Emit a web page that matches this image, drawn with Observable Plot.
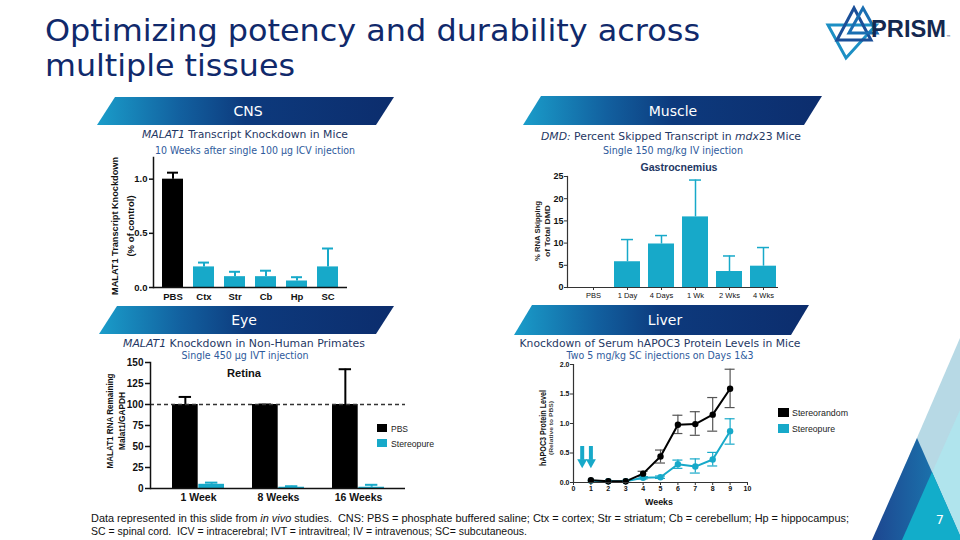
<!DOCTYPE html>
<html><head><meta charset="utf-8">
<script src="https://cdn.jsdelivr.net/npm/d3@7"></script>
<script src="https://cdn.jsdelivr.net/npm/@observablehq/plot@0.6"></script>
<style>
html,body{margin:0;padding:0;background:#fff;}
#stage{position:relative;width:960px;height:540px;overflow:hidden;background:#fff;}
.banner{position:absolute;background:linear-gradient(90deg,#1a9dca 0%,#12609f 28%,#0d3a7d 50%,#0c2d6d 100%);clip-path:polygon(18px 0,100% 0,calc(100% - 18px) 100%,0 100%);}
.chart{position:absolute;}
.chart svg{max-width:none;display:block;}
</style></head><body><div id="stage"></div>
<script>
// ---------------- DATA ----------------
const cnsCats = ["PBS", "Ctx", "Str", "Cb", "Hp", "SC"];
const cnsGroup = ["PBS", "Stereopure", "Stereopure", "Stereopure", "Stereopure", "Stereopure"];
const cnsValues = [1.0, 0.19, 0.10, 0.10, 0.06, 0.19];
const cnsUpper = [1.06, 0.23, 0.145, 0.155, 0.095, 0.36];
const cnsTicks = [0, 0.5, 1.0];

const muscleCats = ["PBS", "1 Day", "4 Days", "1 Wk", "2 Wks", "4 Wks"];
const muscleValues = [0, 5.8, 9.8, 15.9, 3.6, 4.8];
const muscleUpper = [null, 10.8, 11.7, 24.2, 7.1, 9.0];
const muscleTicks = [0, 5, 10, 15, 20, 25];

const eyeGroups = ["1 Week", "8 Weeks", "16 Weeks"];
const eyeSeries = ["PBS", "Stereopure"];
const eyePBS = [100, 100, 100];
const eyePBSUpper = [109, 100, 142];
const eyeStereo = [5, 1.5, 1.5];
const eyeStereoUpper = [7, 2.7, 4.4];
const eyeTicks = [0, 25, 50, 75, 100, 125, 150];
const eyeReference = [100];

const liverSeries = ["Stereorandom", "Stereopure"];
const liverWeeks = [1, 2, 3, 4, 5, 6, 7, 8, 9];
const liverRandom = [0.04, 0.02, 0.02, 0.15, 0.44, 0.98, 0.99, 1.15, 1.59];
const liverRandomLow = [0.04, 0.02, 0.02, 0.10, 0.33, 0.83, 0.80, 0.87, 1.27];
const liverRandomHigh = [0.04, 0.02, 0.02, 0.19, 0.55, 1.14, 1.20, 1.44, 1.92];
const liverPure = [0.03, 0.02, 0.02, 0.08, 0.09, 0.31, 0.27, 0.39, 0.87];
const liverPureLow = [0.03, 0.02, 0.02, 0.06, 0.07, 0.24, 0.16, 0.28, 0.65];
const liverPureHigh = [0.03, 0.02, 0.02, 0.10, 0.11, 0.38, 0.40, 0.51, 1.08];
const liverXTicks = [0, 1, 2, 3, 4, 5, 6, 7, 8, 9, 10];
const liverYTicks = [0, 0.5, 1.0, 1.5, 2.0];
const injectionWeeks = [0.5, 1];
const injectionArrowTop = 0.61;
const injectionArrowTip = 0.24;

// ---------------- STYLE ----------------
const TEAL = "#17a9c9";
const NAVY = "#1f3864";
const SUBBLUE = "#2e5a9c";
const SANS = '"DejaVu Sans", Verdana, sans-serif';
const ARIAL = '"Liberation Sans", Arial, Helvetica, sans-serif';
const stage = document.getElementById("stage");

// decorative shapes
const deco = document.createElement("div");
deco.style.cssText = "position:absolute;left:0;top:0;width:960px;height:540px;";
deco.innerHTML = `<svg width="960" height="540" xmlns="http://www.w3.org/2000/svg">
<defs><linearGradient id="dg" x1="0" x2="1" y1="0" y2="0"><stop offset="0" stop-color="#1d4690"/><stop offset="1" stop-color="#1a86b8"/></linearGradient></defs>
<polygon points="960,338 873,540 960,540" fill="#b7d9e5"/>
<polygon points="960,410 902,540 960,540" fill="#b0e4ed"/>
<polygon points="917,438 872,540 962,540" fill="url(#dg)"/>
<polygon points="932,472 902,540 962,540" fill="#12adca"/>
<g fill="none" stroke-width="3" stroke-linejoin="miter">
<polygon points="828,25 876,25 846,58" stroke="#1c8fc4"/>
<polygon points="854,8 837,40 871,40" stroke="#1b4f98"/>
<polygon points="863,8 849,33 877,33" stroke="#1a6fb2"/>
</g>
</svg>`;
stage.appendChild(deco);

function txt(html, o) {
  const el = document.createElement("div");
  el.innerHTML = html;
  const s = el.style;
  s.position = "absolute"; s.whiteSpace = "nowrap"; s.lineHeight = "1";
  s.fontFamily = o.font || SANS; s.fontSize = o.size + "px";
  s.fontWeight = o.bold ? "bold" : "normal"; s.color = o.color || "#000";
  const cy = o.b !== undefined ? o.b - 0.346 * o.size : o.y;
  s.left = o.x + "px"; s.top = cy + "px";
  stage.appendChild(el);
  const nat = el.getBoundingClientRect().width;
  const k = o.w ? o.w / nat : 1;
  if (o.align === "left") {
    s.transformOrigin = "0 50%";
    s.transform = `translate(0,-50%) scaleX(${k})`;
  } else {
    s.transform = `translate(-50%,-50%) rotate(${o.rot || 0}deg) scaleX(${k})`;
  }
  return el;
}
function banner(label, left, top, width, height, cx) {
  const d = document.createElement("div");
  d.className = "banner";
  Object.assign(d.style, {left: left + "px", top: top + "px", width: width + "px", height: height + "px"});
  stage.appendChild(d);
  txt(label, {x: cx, y: top + height / 2, size: 14, color: "#fff"});
}
function mount(svg, left, top) {
  const d = document.createElement("div");
  d.className = "chart";
  d.style.left = left + "px"; d.style.top = top + "px";
  d.appendChild(svg); stage.appendChild(d);
}
function baseStyle(size, weight) {
  return {background: "transparent", overflow: "visible", fontFamily: ARIAL, fontSize: size + "px", fontWeight: weight, color: "#111", maxWidth: "none"};
}

// ---------------- TITLE ----------------
txt("Optimizing potency and durability across", {x: 45, b: 41, size: 31, color: "#10296b", align: "left", w: 655});
txt("multiple tissues", {x: 45, b: 76, size: 31, color: "#10296b", align: "left", w: 250});
txt("PRISM", {x: 871, b: 37, size: 24, bold: true, color: "#14284f", align: "left", w: 75, font: ARIAL});
txt("™", {x: 946, b: 39, size: 5, color: "#14284f", align: "left"});

// ---------------- BANNERS ----------------
banner("CNS", 97, 97, 297, 28, 248);
banner("Muscle", 523, 96, 299, 29, 673);
banner("Eye", 99, 306, 295, 28, 244);
banner("Liver", 514, 305, 295, 30, 665);

// ---------------- CNS ----------------
const cnsData = cnsCats.map((c, i) => ({cat: c, group: cnsGroup[i], value: cnsValues[i], upper: cnsUpper[i]}));
mount(Plot.plot({
  width: 260, height: 160, marginLeft: 53, marginRight: 13, marginTop: 7, marginBottom: 23,
  style: baseStyle(9.5, "bold"),
  x: {domain: cnsCats, paddingInner: 0.33, paddingOuter: 0.285},
  y: {domain: [0, 1.2]},
  color: {domain: ["PBS", "Stereopure"], range: ["#000", TEAL]},
  marks: [
    Plot.ruleX(cnsData, {x: "cat", y1: "value", y2: "upper", stroke: "group", strokeWidth: 2}),
    Plot.tickY(cnsData, {x: "cat", y: "upper", stroke: "group", strokeWidth: 2, insetLeft: 5, insetRight: 5}),
    Plot.barY(cnsData, {x: "cat", y: "value", fill: "group"}),
    Plot.axisY({ticks: cnsTicks, tickFormat: ".1f", tickSize: 4, tickPadding: 2, label: null, strokeWidth: 1.5}),
    Plot.axisX({tickSize: 0, tickPadding: 6, label: null}),
    Plot.ruleY([0], {strokeWidth: 1.5}),
    Plot.frame({anchor: "left", strokeWidth: 1.5})
  ]
}), 100, 150);
txt("<i>MALAT1</i> Transcript Knockdown in Mice", {x: 245, b: 138, size: 11, color: NAVY, w: 206});
txt("10 Weeks after single 100 µg ICV injection", {x: 255, b: 154, size: 10, color: SUBBLUE, w: 200});
txt("MALAT1 Transcript Knockdown", {x: 115, y: 226, size: 9.5, bold: true, font: ARIAL, rot: -90, w: 138, color: "#111"});
txt("(% of control)", {x: 131, y: 226, size: 9.5, bold: true, font: ARIAL, rot: -90, color: "#111"});

// ---------------- MUSCLE ----------------
const muscleData = muscleCats.map((c, i) => ({cat: c, value: muscleValues[i], upper: muscleUpper[i]}));
const muscleErr = muscleData.filter(d => d.upper != null);
mount(Plot.plot({
  width: 270, height: 135, marginLeft: 47, marginRight: 12, marginTop: 8, marginBottom: 16,
  style: baseStyle(9, "bold"),
  x: {domain: muscleCats, paddingInner: 0.24, paddingOuter: 0.205, align: 0.85},
  y: {domain: [0, 25]},
  marks: [
    Plot.ruleX(muscleErr, {x: "cat", y1: "value", y2: "upper", stroke: TEAL, strokeWidth: 1.5}),
    Plot.tickY(muscleErr, {x: "cat", y: "upper", stroke: TEAL, strokeWidth: 1.5, insetLeft: 7, insetRight: 7}),
    Plot.barY(muscleData, {x: "cat", y: "value", fill: TEAL}),
    Plot.axisY({ticks: muscleTicks, tickSize: 3, tickPadding: 1, label: null, stroke: "#333"}),
    Plot.axisX({tickSize: 3, tickPadding: 2, label: null, fontSize: 7.5, fontWeight: "normal", stroke: "#333"}),
    Plot.ruleY([0], {stroke: "#333", strokeWidth: 1.2}),
    Plot.frame({anchor: "left", stroke: "#333", strokeWidth: 1.2})
  ]
}), 520, 168);
txt("<i>DMD:</i> Percent Skipped Transcript in <i>mdx</i>23 Mice", {x: 671, b: 140, size: 11, color: NAVY, w: 260});
txt("Single 150 mg/kg IV injection", {x: 673, b: 154, size: 10, color: SUBBLUE, w: 140});
txt("Gastrocnemius", {x: 679, b: 171, size: 10, bold: true, color: NAVY, font: ARIAL, w: 77});
txt("% RNA Skipping", {x: 538, y: 231, size: 8, bold: true, font: ARIAL, rot: -90, w: 60, color: "#222"});
txt("of Total DMD", {x: 548, y: 231, size: 8, bold: true, font: ARIAL, rot: -90, w: 52, color: "#222"});

// ---------------- EYE ----------------
const eyeData = eyeGroups.flatMap((g, i) => [
  {group: g, series: "PBS", value: eyePBS[i], upper: eyePBSUpper[i]},
  {group: g, series: "Stereopure", value: eyeStereo[i], upper: eyeStereoUpper[i]}
]);
const eyePb = eyeData.filter(d => d.series === "PBS");
const eyeSt = eyeData.filter(d => d.series === "Stereopure");
const eyeFrameW = 255, eyePadIn = 0.35, eyePadOut = 0.25;
const eyeBw = eyeFrameW / (eyeGroups.length - eyePadIn + 2 * eyePadOut) * (1 - eyePadIn);
const capHalf = 6.5;
mount(Plot.plot({
  width: 310, height: 150, marginLeft: 50, marginRight: 5, marginTop: 7, marginBottom: 17,
  style: baseStyle(10, "bold"),
  x: {domain: eyeGroups, paddingInner: eyePadIn, paddingOuter: eyePadOut},
  y: {domain: [0, 150]},
  color: {domain: eyeSeries, range: ["#000", TEAL]},
  marks: [
    Plot.ruleX(eyePb, {x: "group", y1: "value", y2: "upper", stroke: "series", strokeWidth: 2, dx: -eyeBw / 4}),
    Plot.tickY(eyePb, {x: "group", y: "upper", stroke: "series", strokeWidth: 2, insetLeft: eyeBw / 4 - capHalf, insetRight: eyeBw * 3 / 4 - capHalf}),
    Plot.ruleX(eyeSt, {x: "group", y1: "value", y2: "upper", stroke: "series", strokeWidth: 2, dx: eyeBw / 4}),
    Plot.tickY(eyeSt, {x: "group", y: "upper", stroke: "series", strokeWidth: 2, insetLeft: eyeBw * 3 / 4 - capHalf, insetRight: eyeBw / 4 - capHalf}),
    Plot.barY(eyePb, {x: "group", y: "value", fill: "series", insetRight: eyeBw / 2}),
    Plot.barY(eyeSt, {x: "group", y: "value", fill: "series", insetLeft: eyeBw / 2}),
    Plot.ruleY(eyeReference, {stroke: "#333", strokeWidth: 1.5, strokeDasharray: "4,3"}),
    Plot.axisY({ticks: eyeTicks, tickSize: 5, tickPadding: 2, label: null, strokeWidth: 1.5}),
    Plot.axisX({tickSize: 0, tickPadding: 5, label: null, fontSize: 10.5}),
    Plot.ruleY([0], {strokeWidth: 1.5}),
    Plot.frame({anchor: "left", strokeWidth: 1.5})
  ]
}), 100, 355);
txt("<i>MALAT1</i> Knockdown in Non-Human Primates", {x: 244, b: 347, size: 11, color: NAVY, w: 242});
txt("Single 450 µg IVT injection", {x: 245, b: 359, size: 10, color: SUBBLUE, w: 127});
txt("Retina", {x: 244, b: 377, size: 10, bold: true, font: ARIAL, w: 34, color: "#111"});
txt("MALAT1 RNA Remaining", {x: 110, y: 421, size: 8.5, bold: true, font: ARIAL, rot: -90, w: 95, color: "#111"});
txt("Malat1/GAPDH", {x: 122, y: 421, size: 8.5, bold: true, font: ARIAL, rot: -90, w: 58, color: "#111"});
function swatch(x, y, w, h, color) {
  const d = document.createElement("div");
  d.style.cssText = `position:absolute;left:${x}px;top:${y}px;width:${w}px;height:${h}px;background:${color};`;
  stage.appendChild(d);
}
swatch(377, 424, 10, 8, "#000");
swatch(377, 439, 10, 8, TEAL);
txt(eyeSeries[0], {x: 391, b: 432, size: 8.5, font: ARIAL, align: "left", color: "#222"});
txt(eyeSeries[1], {x: 391, b: 447, size: 8.5, font: ARIAL, align: "left", w: 43, color: "#222"});

// ---------------- LIVER ----------------
const liverData = [
  ...liverWeeks.map((w, i) => ({series: "Stereopure", week: w, value: liverPure[i], low: liverPureLow[i], high: liverPureHigh[i]})),
  ...liverWeeks.map((w, i) => ({series: "Stereorandom", week: w, value: liverRandom[i], low: liverRandomLow[i], high: liverRandomHigh[i]}))
];
const liverErr = liverData.filter(d => d.high > d.low);
const injections = injectionWeeks.map(w => ({week: w, top: injectionArrowTop, tip: injectionArrowTip}));
const downHead = {draw(ctx) { ctx.moveTo(-5, -9); ctx.lineTo(5, -9); ctx.lineTo(0, 0); ctx.closePath(); }};
const errColor = d => d.series === "Stereorandom" ? "#555" : TEAL;
mount(Plot.plot({
  width: 235, height: 152, marginLeft: 53, marginRight: 8, marginTop: 8, marginBottom: 26,
  style: baseStyle(7, "bold"),
  x: {domain: [0, 10]},
  y: {domain: [0, 2]},
  color: {domain: liverSeries, range: ["#000", TEAL]},
  marks: [
    Plot.ruleX(liverErr, {x: "week", y1: "low", y2: "high", stroke: errColor, strokeWidth: 1.2}),
    Plot.ruleY(liverErr, {x1: "week", x2: "week", y: "low", stroke: errColor, strokeWidth: 1.2, insetLeft: -5, insetRight: -5}),
    Plot.ruleY(liverErr, {x1: "week", x2: "week", y: "high", stroke: errColor, strokeWidth: 1.2, insetLeft: -5, insetRight: -5}),
    Plot.line(liverData, {x: "week", y: "value", stroke: "series", z: "series", strokeWidth: 2}),
    Plot.dot(liverData, {x: "week", y: "value", fill: "series", r: 3.2}),
    Plot.ruleX(injections, {x: "week", y1: "top", y2: "tip", stroke: TEAL, strokeWidth: 4, insetBottom: 8}),
    Plot.dot(injections, {x: "week", y: "tip", symbol: downHead, fill: TEAL, r: 5}),
    Plot.axisY({ticks: liverYTicks, tickFormat: ".1f", tickSize: 3, tickPadding: 1, label: null, stroke: "#333"}),
    Plot.axisX({ticks: liverXTicks, tickSize: 3, tickPadding: 1, label: null, stroke: "#333"}),
    Plot.ruleY([0], {stroke: "#333", strokeWidth: 1.2}),
    Plot.ruleX([0], {stroke: "#333", strokeWidth: 1.2})
  ]
}), 520, 356);
txt("Knockdown of Serum hAPOC3 Protein Levels in Mice", {x: 660, b: 347, size: 11, color: NAVY, w: 281});
txt("Two 5 mg/kg SC injections on Days 1&amp;3", {x: 660, b: 359, size: 10, color: SUBBLUE, w: 187});
txt("Weeks", {x: 659, b: 505, size: 9, bold: true, font: ARIAL, w: 28, color: "#111"});
txt("hAPOC3 Protein Level", {x: 543, y: 428, size: 8.5, bold: true, font: ARIAL, rot: -90, w: 76, color: "#111"});
txt("(Relative to PBS)", {x: 552, y: 428, size: 5.5, bold: true, font: ARIAL, rot: -90, w: 54, color: "#444"});
swatch(778, 408, 11, 9, "#000");
swatch(778, 424, 11, 9, TEAL);
txt(liverSeries[0], {x: 792, b: 416, size: 8.5, font: ARIAL, align: "left", w: 56, color: "#222"});
txt(liverSeries[1], {x: 792, b: 432, size: 8.5, font: ARIAL, align: "left", w: 43, color: "#222"});

// ---------------- FOOTER ----------------
txt("Data represented in this slide from <i>in vivo</i> studies.&nbsp; CNS: PBS = phosphate buffered saline; Ctx = cortex; Str = striatum; Cb = cerebellum; Hp = hippocampus;", {x: 91, b: 522, size: 11, font: ARIAL, align: "left", w: 758, color: "#111"});
txt("SC = spinal cord.&nbsp; ICV = intracerebral; IVT = intravitreal; IV = intravenous; SC= subcutaneous.", {x: 91, b: 535, size: 11, font: ARIAL, align: "left", w: 436, color: "#111"});
txt("7", {x: 940, b: 523, size: 13, color: "#fff"});
</script></body></html>
